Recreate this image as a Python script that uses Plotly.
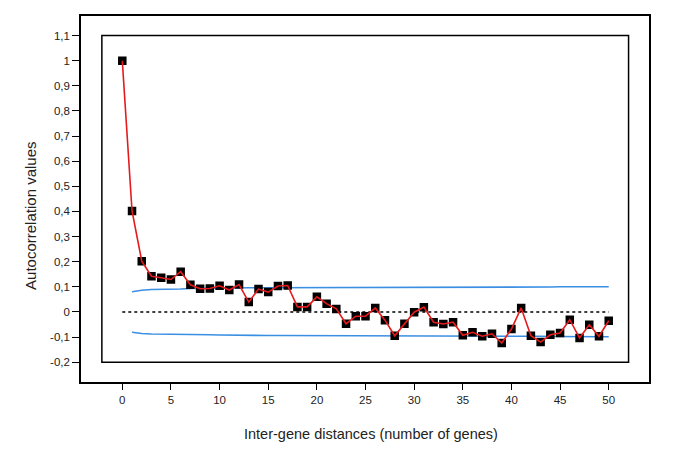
import plotly.graph_objects as go

# Data
lags = list(range(0, 51))
acf = [1.00, 0.402, 0.202, 0.142, 0.136, 0.129, 0.160, 0.108, 0.092, 0.093,
       0.104, 0.087, 0.109, 0.039, 0.091, 0.079, 0.103, 0.105, 0.020, 0.020,
       0.060, 0.033, 0.012, -0.047, -0.017, -0.017, 0.016, -0.033, -0.095, -0.047,
       -0.001, 0.019, -0.041, -0.048, -0.041, -0.093, -0.081, -0.097, -0.087, -0.124,
       -0.068, 0.016, -0.095, -0.120, -0.091, -0.084, -0.031, -0.104, -0.051, -0.097,
       -0.035]

bound_x = list(range(1, 51))
upper = [0.080, 0.086, 0.089, 0.089, 0.089, 0.091, 0.093, 0.094, 0.095, 0.095,
         0.096, 0.096, 0.096, 0.096, 0.096, 0.096, 0.096, 0.097, 0.097, 0.097,
         0.097, 0.097, 0.097, 0.097, 0.097, 0.097, 0.097, 0.097, 0.097, 0.097,
         0.097, 0.097, 0.097, 0.097, 0.097, 0.097, 0.097, 0.097, 0.097, 0.097,
         0.097, 0.097, 0.097, 0.099, 0.100, 0.100, 0.100, 0.100, 0.100, 0.100]
lower = [-0.081, -0.086, -0.088, -0.088, -0.090, -0.091, -0.091, -0.091, -0.091, -0.092,
         -0.093, -0.094, -0.094, -0.094, -0.094, -0.094, -0.094, -0.094, -0.095, -0.095,
         -0.095, -0.095, -0.095, -0.096, -0.096, -0.096, -0.096, -0.096, -0.096, -0.096,
         -0.096, -0.096, -0.096, -0.096, -0.096, -0.096, -0.097, -0.097, -0.097, -0.097,
         -0.097, -0.097, -0.097, -0.098, -0.098, -0.099, -0.099, -0.099, -0.099, -0.099]

zero_x = [0, 50]
zero_y = [0, 0]

y_tickvals = [1.1, 1.0, 0.9, 0.8, 0.7, 0.6, 0.5, 0.4, 0.3, 0.2, 0.1, 0.0, -0.1, -0.2]
y_ticktext = ["1,1", "1", "0,9", "0,8", "0,7", "0,6", "0,5", "0,4", "0,3", "0,2",
              "0,1", "0", "-0,1", "-0,2"]
x_tickvals = [0, 5, 10, 15, 20, 25, 30, 35, 40, 45, 50]

FONT = "Liberation Sans, Arial, sans-serif"
BLUE = "#3b8fe3"
RED = "#e41a1c"

fig = go.Figure()

fig.add_trace(go.Scatter(x=bound_x, y=upper, mode="lines",
                         line=dict(color=BLUE, width=1.6), hoverinfo="skip"))
fig.add_trace(go.Scatter(x=bound_x, y=lower, mode="lines",
                         line=dict(color=BLUE, width=1.6), hoverinfo="skip"))
fig.add_trace(go.Scatter(x=zero_x, y=zero_y, mode="lines",
                         line=dict(color="black", width=1.5, dash="dot")))
fig.add_trace(go.Scatter(x=lags, y=acf, mode="markers",
                         marker=dict(symbol="square", size=7, color="black",
                                     line=dict(color="black", width=1.5))))
fig.add_trace(go.Scatter(x=lags, y=acf, mode="lines",
                         line=dict(color=RED, width=1.6)))

# inner box
fig.add_shape(type="rect", x0=-2.1, x1=52.04, y0=-0.2, y1=1.1,
              xref="x", yref="y", line=dict(color="black", width=1.5),
              layer="below")

# page body has an 8px margin, so the figure is offset by 8px
W, H = 677, 451
L, R, T, B = 73, 36, 6, 77
PW, PH = W - L - R, H - T - B  # 568 x 368

fig.update_layout(
    width=W, height=H,
    margin=dict(l=L, r=R, t=T, b=B),
    paper_bgcolor="white", plot_bgcolor="white",
    showlegend=False,
    font=dict(family=FONT, size=11, color="#222222"),
    xaxis=dict(range=[-4.245, 54.14], tickvals=x_tickvals,
               showgrid=False, zeroline=False,
               showline=True, mirror=True, linecolor="black", linewidth=1.5,
               ticks="outside", ticklen=6, tickwidth=1.2, tickcolor="black",
               tickfont=dict(size=11.5, family=FONT, color="#222222")),
    yaxis=dict(range=[-0.279, 1.178], tickvals=y_tickvals, ticktext=y_ticktext,
               showgrid=False, zeroline=False,
               showline=True, mirror=True, linecolor="black", linewidth=1.5,
               ticks="outside", ticklen=7, tickwidth=1.2, tickcolor="black",
               tickfont=dict(size=11.5, family=FONT, color="#222222")),
    annotations=[
        dict(text="Inter-gene distances (number of genes)", xref="paper", yref="paper",
             x=(371 - 81) / PW, y=-(434 - 382) / PH, showarrow=False,
             xanchor="center", yanchor="middle",
             font=dict(size=14.5, family=FONT, color="#222222")),
        dict(text="Autocorrelation values", xref="paper", yref="paper",
             x=-(81 - 31) / PW, y=(382 - 215) / PH, showarrow=False,
             textangle=-90, xanchor="center", yanchor="middle",
             font=dict(size=15, family=FONT, color="#222222")),
    ],
)

fig.write_html("out.html")
